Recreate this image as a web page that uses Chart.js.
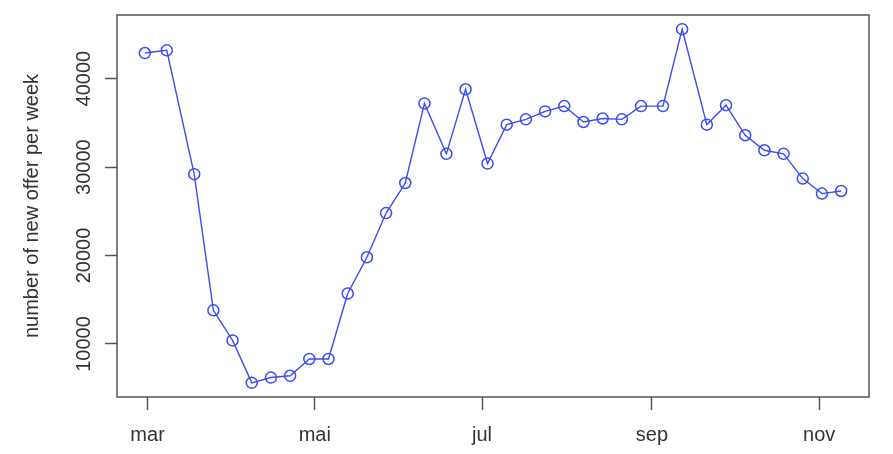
<!DOCTYPE html>
<html>
<head>
<meta charset="utf-8">
<script src="https://cdn.jsdelivr.net/npm/chart.js@4"></script>
<style>
  body { margin: 0; background: #fff; }
  canvas { display: block; }
</style>
</head>
<body>
<canvas id="grafica" width="893" height="454"></canvas>
<script>
// days counted from 1 March
const weekDays = [-1, 7, 17, 24, 31, 38, 45, 52, 59, 66, 73, 80, 87, 94, 101, 109, 116, 124,
                  131, 138, 145, 152, 159, 166, 173, 180, 188, 195, 204, 211, 218, 225, 232, 239, 246, 253];
const newOffers = [42900, 43200, 29200, 13800, 10400, 5600, 6200, 6400, 8300, 8300, 15700, 19800,
                   24800, 28200, 37200, 31500, 38800, 30400, 34800, 35400, 36300, 36900, 35100, 35500,
                   35400, 36900, 36900, 45600, 34800, 37000, 33600, 31900, 31500, 28700, 27000, 27300];
const monthTickDays = [0, 61, 122, 184, 245];
const monthLabels = ['mar', 'mai', 'jul', 'sep', 'nov'];
const yTickValues = [10000, 20000, 30000, 40000];

const gris = '#555';
const azul = '#3b4cf2';
const fuente = { family: 'Liberation Sans, Arial, sans-serif', size: 20 };

// caja alrededor del area + etiquetas Y giradas
const cajaPlugin = {
    id: 'caja',
    afterDraw(chart) {
        const ctx = chart.ctx;
        const a = chart.chartArea;
        ctx.save();
        ctx.strokeStyle = gris;
        ctx.lineWidth = 1.5;
        ctx.strokeRect(a.left, a.top, a.right - a.left, a.bottom - a.top);

        const y = chart.scales.y;
        ctx.fillStyle = '#333';
        ctx.font = '20px ' + fuente.family;
        ctx.textAlign = 'center';
        ctx.textBaseline = 'alphabetic';
        yTickValues.forEach(v => {
            ctx.save();
            ctx.translate(90, y.getPixelForValue(v));
            ctx.rotate(-Math.PI / 2);
            ctx.fillText(String(v), 0, 0);
            ctx.restore();
        });
        ctx.restore();
    }
};

const ctx = document.getElementById('grafica').getContext('2d');
new Chart(ctx, {
    type: 'line',
    data: {
        datasets: [{
            data: weekDays.map((d, i) => ({ x: d, y: newOffers[i] })),
            borderColor: azul,
            borderWidth: 1.4,
            tension: 0,
            pointStyle: 'circle',
            pointRadius: 5.5,
            pointBorderWidth: 1.5,
            pointBorderColor: azul,
            pointBackgroundColor: 'rgba(0,0,0,0)'
        }]
    },
    options: {
        responsive: false,
        animation: false,
        layout: { padding: { top: 15, right: 24, left: 0, bottom: 0 } },
        plugins: {
            legend: { display: false },
            tooltip: { enabled: false }
        },
        scales: {
            x: {
                type: 'linear',
                min: -11.16,
                max: 263.16,
                afterBuildTicks: s => { s.ticks = monthTickDays.map(v => ({ value: v })); },
                afterFit: s => { s.height = 57; },
                border: { display: false },
                grid: {
                    drawOnChartArea: false,
                    drawTicks: true,
                    tickLength: 13,
                    tickColor: gris,
                    tickWidth: 1.5
                },
                ticks: {
                    autoSkip: false,
                    maxRotation: 0,
                    padding: 13,
                    color: '#333',
                    font: fuente,
                    callback: v => monthLabels[monthTickDays.indexOf(v)] || ''
                }
            },
            y: {
                min: 4000,
                max: 47200,
                afterBuildTicks: s => { s.ticks = yTickValues.map(v => ({ value: v })); },
                afterFit: s => { s.width = 117; },
                border: { display: false },
                grid: {
                    drawOnChartArea: false,
                    drawTicks: true,
                    tickLength: 12,
                    tickColor: gris,
                    tickWidth: 1.5
                },
                ticks: { display: false },
                title: {
                    display: true,
                    text: 'number of new offer per week',
                    color: '#333',
                    font: fuente,
                    padding: { top: 20, bottom: 0 }
                }
            }
        }
    },
    plugins: [cajaPlugin]
});
</script>
</body>
</html>
